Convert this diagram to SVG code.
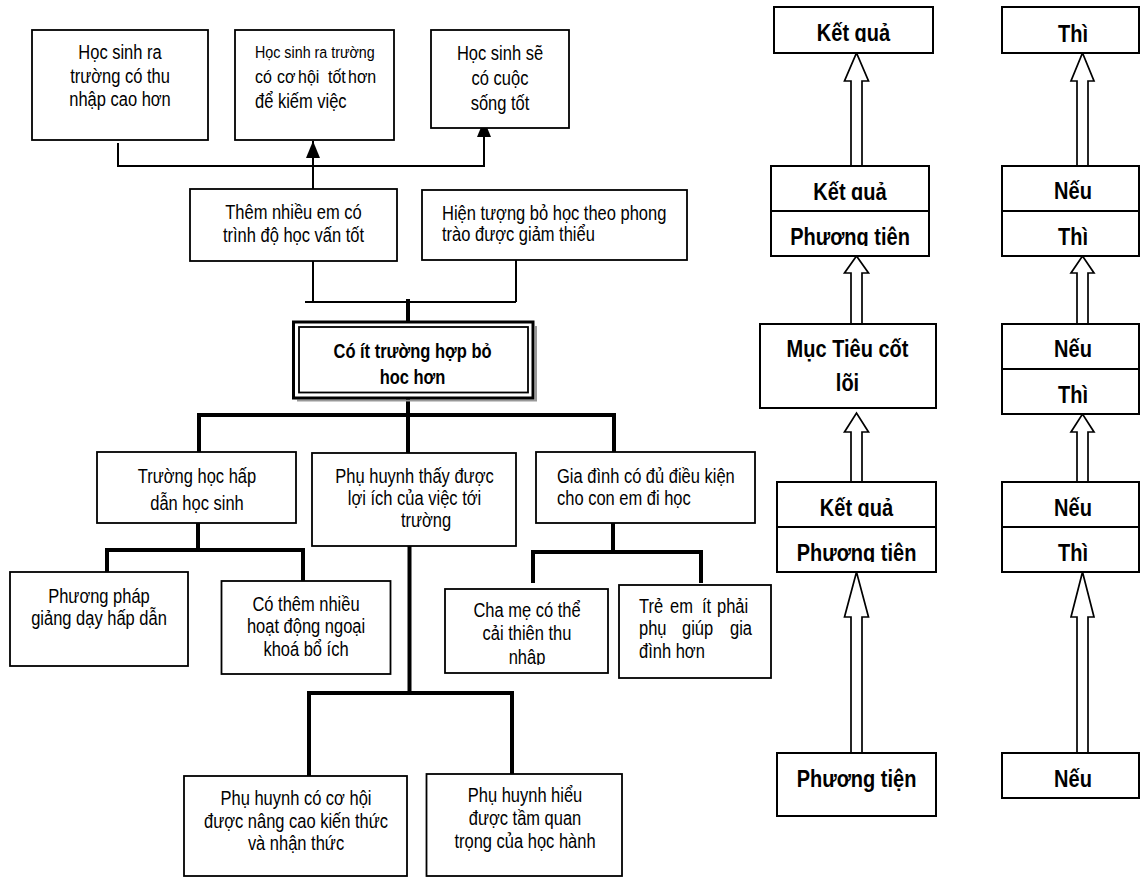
<svg xmlns="http://www.w3.org/2000/svg" width="1140" height="877" viewBox="0 0 1140 877">
<style>
  .box{fill:#fff;stroke:#000;stroke-width:1.8}
  .rbox{fill:#fff;stroke:#000;stroke-width:2}
  .thin{fill:none;stroke:#000;stroke-width:2}
  .thick{fill:none;stroke:#000;stroke-width:4;stroke-linejoin:miter}
  .arrow{fill:#fff;stroke:#000;stroke-width:1.7;stroke-linejoin:miter}
  .t{font-family:"Liberation Sans",Arial,sans-serif;font-size:16.5px;fill:#000;text-anchor:middle}
  .l{text-anchor:start}
  .b{font-weight:bold;font-size:20px}
</style>
<defs>
  <marker id="head" markerUnits="userSpaceOnUse" markerWidth="17" markerHeight="14" refX="17" refY="7" orient="auto">
    <path d="M0,0 L17,7 L0,14 z" fill="#000"/>
  </marker>
  <clipPath id="cR1"><rect x="774" y="7" width="159" height="35"/></clipPath>
  <clipPath id="cR2a"><rect x="771" y="166" width="158" height="34"/></clipPath>
  <clipPath id="cR2b"><rect x="771" y="211" width="158" height="35"/></clipPath>
  <clipPath id="cR4a"><rect x="777" y="482" width="159" height="35"/></clipPath>
  <clipPath id="cR4b"><rect x="777" y="527" width="159" height="35"/></clipPath>
  <clipPath id="cM"><rect x="445" y="589" width="163" height="76"/></clipPath>
</defs>

<!-- connectors -->
<g id="connectors">
  <!-- upper tree: thin lines with filled heads -->
  <path class="thin" d="M118,143 V166 H484 V120" marker-end="url(#head)"/>
  <path class="thin" d="M313,189 V141" marker-end="url(#head)"/>
  <path class="thin" d="M313,261 V302 M516,260 V302 M305,302 H516"/>
  <path class="thick" d="M408,299 V322"/>
  <!-- lower tree: thick lines -->
  <path class="thick" d="M408,398 V453 M199,452 V415 H614 V452"/>
  <path class="thick" d="M198,523 V552 M107,572 V550 H303 V582"/>
  <path class="thick" d="M613,523 V552 M533,583 V552 H701 V583"/>
  <path class="thick" d="M409.5,546 V693 M309,776 V693 H512 V774"/>
  <!-- right chains: open block arrows -->
  <polygon class="arrow" points="851,166 851,81 844.5,81 856.5,53 868.5,81 862,81 862,166"/>
  <polygon class="arrow" points="851,324 851,273 844.5,273 856.5,256 868.5,273 862,273 862,324"/>
  <polygon class="arrow" points="851,482 851,432 844.5,432 856.5,413 868.5,432 862,432 862,482"/>
  <polygon class="arrow" points="851,753 851,617 844.5,617 856.5,572 868.5,617 862,617 862,753"/>
  <polygon class="arrow" points="1077,166 1077,81 1071,81 1082.5,53 1094,81 1088,81 1088,166"/>
  <polygon class="arrow" points="1077,324 1077,273 1071,273 1082.5,256 1094,273 1088,273 1088,324"/>
  <polygon class="arrow" points="1077,482 1077,432 1071,432 1082.5,414 1094,432 1088,432 1088,482"/>
  <polygon class="arrow" points="1077,753 1077,617 1071,617 1082.5,572 1094,617 1088,617 1088,753"/>
</g>

<!-- upper tree nodes -->
<g id="n-thu-nhap">
  <rect class="box" x="32" y="30" width="176" height="110"/>
  <text class="t" font-size="17" transform="translate(120,59) scale(1,1.17)"><tspan x="0" y="0">Học sinh ra</tspan><tspan x="0" y="20.5">trường có thu</tspan><tspan x="0" y="40.2">nhập cao hơn</tspan></text>
</g>
<g id="n-co-hoi">
  <rect class="box" x="235" y="30" width="159" height="110"/>
  <text class="t l" transform="translate(255,58) scale(1,1.17)"><tspan x="0" y="0" font-size="14.3">Học sinh ra trường</tspan><tspan font-size="16"><tspan x="0" y="21.4">có</tspan><tspan x="22" y="21.4">cơ</tspan><tspan x="43" y="21.4">hội</tspan><tspan x="73" y="21.4">tốt</tspan><tspan x="93" y="21.4">hơn</tspan></tspan><tspan x="0" y="42.7">để kiếm việc</tspan></text>
</g>
<g id="n-cuoc-song">
  <rect class="box" x="431" y="30" width="138" height="98"/>
  <text class="t" font-size="17" transform="translate(500,60) scale(1,1.17)"><tspan x="0" y="0">Học sinh sẽ</tspan><tspan x="0" y="21.4">có cuộc</tspan><tspan x="0" y="42.7">sống tốt</tspan></text>
</g>
<g id="n-hoc-van">
  <rect class="box" x="190" y="189" width="207" height="72"/>
  <text class="t" transform="translate(293.5,219) scale(1,1.17)"><tspan x="0" y="0">Thêm nhiều em có</tspan><tspan x="0" y="19.7">trình độ học vấn tốt</tspan></text>
</g>
<g id="n-phong-trao">
  <rect class="box" x="422" y="190" width="265" height="70"/>
  <text class="t l" transform="translate(442,219.5) scale(1,1.17)"><tspan x="0" y="0">Hiện tượng bỏ học theo phong</tspan><tspan x="0" y="18.8">trào được giảm thiểu</tspan></text>
</g>

<!-- core problem -->
<g id="n-core">
  <polyline points="297,400.5 536,400.5 536,326" fill="none" stroke="#999" stroke-width="2"/>
  <rect x="293.5" y="322" width="239.5" height="76" fill="#fff" stroke="#000" stroke-width="3"/>
  <rect x="299" y="327" width="229" height="65.5" fill="none" stroke="#000" stroke-width="1.8"/>
  <text class="t" font-weight="bold" font-size="18.3" transform="translate(412.5,358) scale(1,1.17)"><tspan x="0" y="0">Có ít trường hợp bỏ</tspan><tspan x="0" y="22.2">hoc hơn</tspan></text>
</g>

<!-- lower tree nodes -->
<g id="n-truong-hoc">
  <rect class="box" x="97" y="452" width="199" height="71"/>
  <text class="t" font-size="18" transform="translate(197,483) scale(1,1.17)"><tspan x="0" y="0">Trường học hấp</tspan><tspan x="0" y="23.1">dẫn học sinh</tspan></text>
</g>
<g id="n-phu-huynh">
  <rect class="box" x="312" y="453" width="204" height="93"/>
  <text class="t" transform="translate(414.5,483) scale(1,1.17)"><tspan x="0" y="0">Phụ huynh thấy được</tspan><tspan x="0" y="18.8">lợi ích của việc tới</tspan><tspan x="11.5" y="37.6">trường</tspan></text>
</g>
<g id="n-gia-dinh">
  <rect class="box" x="536" y="452" width="219" height="71"/>
  <text class="t l" transform="translate(557,483) scale(1,1.17)"><tspan x="0" y="0">Gia đình có đủ điều kiện</tspan><tspan x="0" y="18.8">cho con em đi học</tspan></text>
</g>
<g id="n-phuong-phap">
  <rect class="box" x="10" y="572" width="178" height="94"/>
  <text class="t" transform="translate(99,603) scale(1,1.17)"><tspan x="0" y="0">Phương pháp</tspan><tspan x="0" y="18.8">giảng dạy hấp dẫn</tspan></text>
</g>
<g id="n-ngoai-khoa">
  <rect class="box" x="221.5" y="581" width="169" height="93"/>
  <text class="t" transform="translate(306,611) scale(1,1.17)"><tspan x="0" y="0">Có thêm nhiều</tspan><tspan x="0" y="18.8">hoạt động ngoại</tspan><tspan x="0" y="38.5">khoá bổ ích</tspan></text>
</g>
<g id="n-cha-me">
  <rect class="box" x="445" y="589" width="163" height="84"/>
  <g clip-path="url(#cM)">
    <text class="t" font-size="17" transform="translate(527,617) scale(1,1.17)"><tspan x="0" y="0">Cha mẹ có thể</tspan><tspan x="0" y="19.7">cải thiên thu</tspan><tspan x="0" y="40.2">nhập</tspan></text>
  </g>
</g>
<g id="n-tre-em">
  <rect class="box" x="619" y="585" width="152" height="93"/>
  <text class="t l" font-size="16" transform="translate(639,613) scale(1,1.17)"><tspan x="0" y="0">Trẻ</tspan><tspan x="31" y="0">em</tspan><tspan x="63" y="0">ít</tspan><tspan x="78" y="0">phải</tspan><tspan x="0" y="18.8">phụ</tspan><tspan x="43" y="18.8">giúp</tspan><tspan x="91" y="18.8">gia</tspan><tspan x="0" y="38.5">đình hơn</tspan></text>
</g>
<g id="n-kien-thuc">
  <rect class="box" x="184" y="776" width="223" height="100"/>
  <text class="t" transform="translate(296,805) scale(1,1.17)"><tspan x="0" y="0">Phụ huynh có cơ hội</tspan><tspan x="0" y="19.7">được nâng cao kiến thức</tspan><tspan x="0" y="38.5">và nhận thức</tspan></text>
</g>
<g id="n-tam-quan-trong">
  <rect class="box" x="426.5" y="774" width="195.5" height="102"/>
  <text class="t" font-size="17" transform="translate(525,802) scale(1,1.17)"><tspan x="0" y="0">Phụ huynh hiểu</tspan><tspan x="0" y="19.7">được tầm quan</tspan><tspan x="0" y="39.3">trọng của học hành</tspan></text>
</g>

<!-- means / result chain -->
<g id="r-ket-qua">
  <rect class="rbox" x="774" y="7" width="159" height="46"/>
  <g clip-path="url(#cR1)"><text class="t b" transform="translate(853.5,41) scale(1,1.17)">Kết quả</text></g>
</g>
<g id="r-ket-qua-phuong-tien-1">
  <rect class="rbox" x="771" y="166" width="158" height="90"/>
  <line x1="771" y1="211" x2="929" y2="211" stroke="#000" stroke-width="2"/>
  <g clip-path="url(#cR2a)"><text class="t b" transform="translate(850,199.5) scale(1,1.17)">Kết quả</text></g>
  <g clip-path="url(#cR2b)"><text class="t b" transform="translate(850,245) scale(1,1.17)">Phương tiện</text></g>
</g>
<g id="r-muc-tieu">
  <rect class="rbox" x="760" y="324" width="176" height="84"/>
  <text class="t b" transform="translate(847.5,357) scale(1,1.17)"><tspan x="0" y="0">Mục Tiêu cốt</tspan><tspan x="0" y="29">lõi</tspan></text>
</g>
<g id="r-ket-qua-phuong-tien-2">
  <rect class="rbox" x="777" y="482" width="159" height="90"/>
  <line x1="777" y1="527" x2="936" y2="527" stroke="#000" stroke-width="2"/>
  <g clip-path="url(#cR4a)"><text class="t b" transform="translate(856.5,516) scale(1,1.17)">Kết quả</text></g>
  <g clip-path="url(#cR4b)"><text class="t b" transform="translate(856.5,561) scale(1,1.17)">Phương tiện</text></g>
</g>
<g id="r-phuong-tien">
  <rect class="rbox" x="777" y="753" width="159" height="63"/>
  <text class="t b" transform="translate(856.5,787) scale(1,1.17)">Phương tiện</text>
</g>

<!-- if / then chain -->
<g id="s-thi">
  <rect class="rbox" x="1002" y="7" width="137" height="46"/>
  <text class="t b" transform="translate(1073,41.5) scale(1,1.17)">Thì</text>
</g>
<g id="s-neu-thi-1">
  <rect class="rbox" x="1002" y="166" width="137" height="90"/>
  <line x1="1002" y1="211" x2="1139" y2="211" stroke="#000" stroke-width="2"/>
  <text class="t b" transform="translate(1073,199) scale(1,1.17)">Nếu</text>
  <text class="t b" transform="translate(1073,245) scale(1,1.17)">Thì</text>
</g>
<g id="s-neu-thi-2">
  <rect class="rbox" x="1002" y="324" width="137" height="90"/>
  <line x1="1002" y1="369" x2="1139" y2="369" stroke="#000" stroke-width="2"/>
  <text class="t b" transform="translate(1073,357) scale(1,1.17)">Nếu</text>
  <text class="t b" transform="translate(1073,403) scale(1,1.17)">Thì</text>
</g>
<g id="s-neu-thi-3">
  <rect class="rbox" x="1002" y="482" width="137" height="90"/>
  <line x1="1002" y1="527" x2="1139" y2="527" stroke="#000" stroke-width="2"/>
  <text class="t b" transform="translate(1073,516) scale(1,1.17)">Nếu</text>
  <text class="t b" transform="translate(1073,561) scale(1,1.17)">Thì</text>
</g>
<g id="s-neu">
  <rect class="rbox" x="1002" y="753" width="137" height="45"/>
  <text class="t b" transform="translate(1073,787) scale(1,1.17)">Nếu</text>
</g>
</svg>
